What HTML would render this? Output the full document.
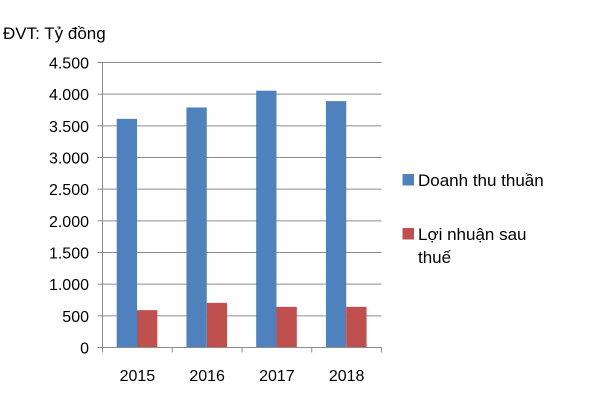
<!DOCTYPE html>
<html><head><meta charset="utf-8"><style>
body{margin:0;background:#fff;}
svg{display:block;font-family:"Liberation Sans",sans-serif;}
</style></head><body>
<svg id="chart" width="600" height="400">
<text x="3" y="39" font-size="17" fill="#000">ĐVT: Tỷ đồng</text>
<g id="grid"></g><g id="bars"></g><g id="axes"></g>
<g>
<g>
<rect x="402.5" y="174" width="11.5" height="11.5" fill="#4f81bd"/>
<text x="418" y="186" font-size="17">Doanh thu thuần</text></g>
<g>
<rect x="402.5" y="228" width="11.5" height="11.5" fill="#c0504d"/>
<text x="418" y="240" font-size="17">Lợi nhuận sau</text>
<text x="418" y="263" font-size="17">thuế</text></g>
</g>
</svg>
<script>
const categories=["2015","2016","2017","2018"];
const revenue=[3610,3790,4055,3890];
const profit=[590,705,642,642];
const yTicks=[0,500,1000,1500,2000,2500,3000,3500,4000,4500];
const yTickLabels=["0","500","1.000","1.500","2.000","2.500","3.000","3.500","4.000","4.500"];
const NS="http://www.w3.org/2000/svg";
const X0=102.5,X1=381.5,Y0=347.5,Y1=62.5,YMAX=4500;
const bw=(X1-X0)/categories.length;
const y=v=>Y0-(v/YMAX)*(Y0-Y1);
const x=i=>X0+i*bw;
function mk(t,a,p){const e=document.createElementNS(NS,t);for(const k in a)e.setAttribute(k,a[k]);p.appendChild(e);return e;}
const grid=document.getElementById('grid'),bars=document.getElementById('bars'),axes=document.getElementById('axes');
yTicks.forEach((v,i)=>{
 if(v>0){const l=mk('line',{x1:X0,x2:X1,y1:y(v),y2:y(v),stroke:'#8c8c8c','stroke-width':1},grid);
 
 }
 const tk=mk('line',{x1:X0-5,x2:X0,y1:y(v),y2:y(v),stroke:'#8c8c8c'},axes);
 
 
 const t=mk('text',{x:89,y:y(v)+6,'text-anchor':'end','font-size':16},axes);
 t.textContent=yTickLabels[i];
 
 
});
categories.forEach((c,i)=>{
 const b=mk('rect',{x:x(i)+14.2,y:y(revenue[i]),width:20.3,height:Y0-y(revenue[i]),fill:'#4f81bd'},bars);
 
 
 const r=mk('rect',{x:x(i)+34.5,y:y(profit[i]),width:20.3,height:Y0-y(profit[i]),fill:'#c0504d'},bars);
 
 
 const t=mk('text',{x:x(i)+bw/2,y:381,'text-anchor':'middle','font-size':16},axes);
 t.textContent=c;
 
 
});
for(let i=0;i<=categories.length;i++){
 const tk=mk('line',{x1:x(i),x2:x(i),y1:Y0,y2:Y0+5,stroke:'#8c8c8c'},axes);
 
 
}
const ya=mk('line',{x1:X0,x2:X0,y1:Y1,y2:Y0,stroke:'#8c8c8c'},axes);


const xa=mk('line',{x1:X0,x2:X1,y1:Y0,y2:Y0,stroke:'#8c8c8c'},axes);


</script>
</body></html>
